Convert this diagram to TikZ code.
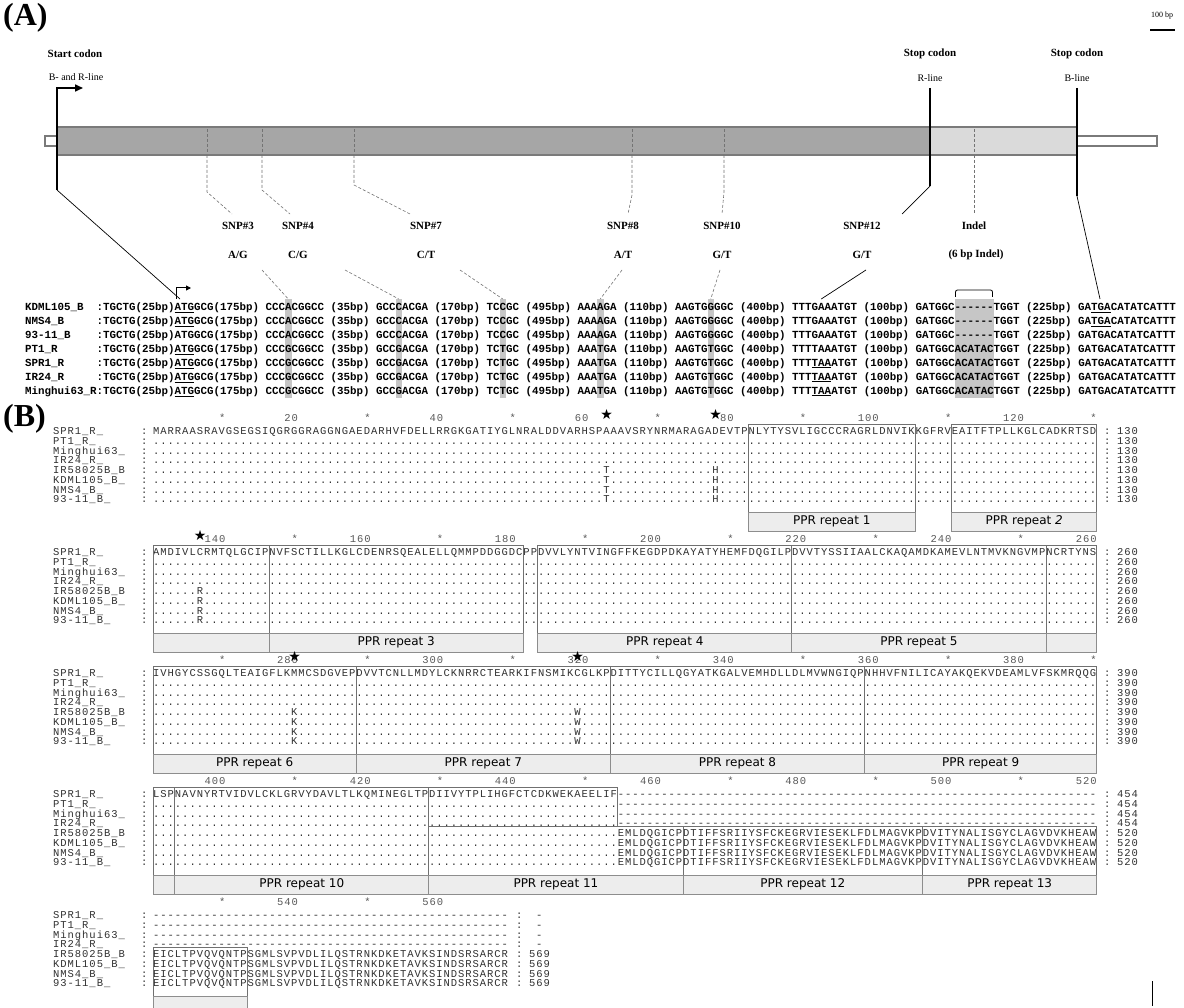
\documentclass[tikz,border=0pt]{standalone}
\usepackage{fontspec}
\setmainfont{Liberation Serif}
\setmonofont{Liberation Mono}
\newfontfamily\sansf{DejaVu Sans}
\usetikzlibrary{arrows.meta}
\definecolor{bardark}{HTML}{A6A6A6}
\definecolor{barlight}{HTML}{DADADA}
\definecolor{baredge}{HTML}{7A7A7A}
\definecolor{snpgray}{HTML}{C6C6C6}
\definecolor{lblfill}{HTML}{EDEDED}
\definecolor{boxline}{HTML}{707070}
\definecolor{seqtext}{HTML}{303030}
\ExplSyntaxOn
\cs_new:Npn \rep #1#2 { \prg_replicate:nn {#1} {#2} }
\ExplSyntaxOff
\newcount\rowc
\newcount\boxc
% alignment row: y1, index, name, sequence, colon x, number
\newcommand\alrow[6]{%
  \global\advance\rowc by 1\relax
  \edef\rn{\the\rowc}%
  \node[alnm] (nm\rn) at (53,{#1+#2*9.75+3.5}) {#3};
  \node[alnm] (cl\rn) at (141,{#1+#2*9.75+3.5}) {:};
  \node[alsq] (sq\rn) at (153,{#1+#2*9.75+3.5}) {#4};
  \node[alnm] (ec\rn) at (#5,{#1+#2*9.75+3.5}) {:};
  \node[alnm] (en\rn) at ({#5+13},{#1+#2*9.75+3.5}) {#6};
}
\newcommand\alblock[7]{%
  \alrow{#1}{0}{SPR1\_R\_}{#2}{#5}{#6}
  \alrow{#1}{1}{PT1\_R\_}{#3}{#5}{#6}
  \alrow{#1}{2}{Minghui63\_}{#3}{#5}{#6}
  \alrow{#1}{3}{IR24\_R\_}{#3}{#5}{#6}
  \alrow{#1}{4}{IR58025B\_B}{#4}{#5}{#7}
  \alrow{#1}{5}{KDML105\_B\_}{#4}{#5}{#7}
  \alrow{#1}{6}{NMS4\_B\_}{#4}{#5}{#7}
  \alrow{#1}{7}{93-11\_B\_}{#4}{#5}{#7}
}
\newcommand\ruler[3]{%
  \foreach \k in {1,...,#3}{%
    \pgfmathtruncatemacro\rnum{#2+10*\k}%
    \pgfmathtruncatemacro\rdec{\rnum/10}%
    \ifodd\rdec\relax\def\mk{*}\else\let\mk\rnum\fi
    \node[alrl] (rl\rnum) at ({153+10*\k*7.26},{#1-9.5}) {\mk};
  }%
}
% PPR box: y1, first col, last col, top row, label
\newcommand\ppr[5]{%
  \global\advance\boxc by 1\relax
  \edef\bn{\the\boxc}%
  \draw[repbox] ({153+(#2-1)*7.26},{#1-6.5+#4*9.75}) rectangle ({153+#3*7.26},{#1+81});
  \node[lblbox, minimum width={(#3-#2+1)*7.26}] (ppr\bn) at ({153+(#2-1+#3)*7.26/2},{#1+90.5}) {#5};
}
\newcommand\bstar[3]{\node[bigstar] (#3) at ({153+(#2-0.5)*7.26},{#1-17}) {★};}
% section A rows
\newcommand\arow[3]{%
  \global\advance\rowc by 1\relax
  \edef\rn{\the\rowc}%
  \node[anm] (an\rn) at (25,{#1+3.2}) {#2};
  \node[anm] (aa\rn) at (96.5,{#1+3.2}) {#3};
}
\def\sA{:TGCTG(25bp)\underline{ATG}GCG(175bp)}
\def\sAn{:TGCTG(25bp)ATGGCG(175bp)}
\def\sBu{ CCCACGGCC (35bp) GCCCACGA (170bp) TCCGC (495bp) AAAAGA (110bp) AAGTGGGGC (400bp) TTTGAAATGT (100bp) GATGGC------TGGT (225bp) GA\underline{TGA}CATATCATTT}
\def\sBn{ CCCACGGCC (35bp) GCCCACGA (170bp) TCCGC (495bp) AAAAGA (110bp) AAGTGGGGC (400bp) TTTGAAATGT (100bp) GATGGC------TGGT (225bp) GATGACATATCATTT}
\def\sRn{ CCCGCGGCC (35bp) GCCGACGA (170bp) TCTGC (495bp) AAATGA (110bp) AAGTGTGGC (400bp) TTTTAAATGT (100bp) GATGGCACATACTGGT (225bp) GATGACATATCATTT}
\def\sRu{ CCCGCGGCC (35bp) GCCGACGA (170bp) TCTGC (495bp) AAATGA (110bp) AAGTGTGGC (400bp) TTT\underline{TAA}ATGT (100bp) GATGGCACATACTGGT (225bp) GATGACATATCATTT}
\begin{document}
\begin{tikzpicture}[x=1pt,y=-1pt,
  labb/.style={inner sep=0, font=\fontsize{11}{11}\selectfont\bfseries},
  labr/.style={inner sep=0, font=\fontsize{10}{10}\selectfont},
  panel/.style={anchor=north west, inner sep=0, font=\fontsize{32}{32}\selectfont\bfseries},
  anm/.style={anchor=base west, inner sep=0, text=black, font=\ttfamily\bfseries\fontsize{10.833}{11}\selectfont},
  alnm/.style={anchor=base west, inner sep=0, text=seqtext, font=\ttfamily\fontsize{10.5}{10}\selectfont\addfontfeature{LetterSpace=9.15}},
  alsq/.style={alnm},
  alrl/.style={anchor=base east, inner sep=0, text=black!65, font=\ttfamily\fontsize{10.5}{10}\selectfont\addfontfeature{LetterSpace=9.15}},
  repbox/.style={draw=boxline, line width=0.8pt},
  lblbox/.style={draw=boxline!80, fill=lblfill, line width=0.8pt, minimum height=19pt, inner sep=0, font=\sansf\fontsize{12}{12}\selectfont},
  bigstar/.style={inner sep=0, font=\sansf\fontsize{14}{14}\selectfont},
  dl/.style={draw=black!55, dashed, dash pattern=on 3pt off 2pt, line width=0.6pt},
  sl/.style={draw=black, line width=0.7pt},
  hl/.style={fill=snpgray}
]
\useasboundingbox (0,0) rectangle (1184,1008);
\fill[white] (0,0) rectangle (1184,1008);

%================ (A) =================
\node[panel] (lblA) at (3,3) {(A)};
\node[inner sep=0, font=\fontsize{8}{8}\selectfont] (scl) at (1162,16) {100 bp};
\coordinate (scl1) at (1150,30); \coordinate (scl2) at (1175,30);
\draw[line width=1.2pt] (scl1) -- (scl2);

% gene model
\draw[draw=baredge, line width=1.2pt, fill=white] (45,136) rectangle (57,146);
\draw[draw=baredge, line width=1.2pt, fill=white] (1077,136) rectangle (1157,146);
\fill[bardark] (57,127) rectangle (930,155);
\fill[barlight] (930,127) rectangle (1077,155);
\draw[baredge, line width=2pt] (57,127) -- (1077,127);
\draw[baredge, line width=2pt] (57,155) -- (1077,155);
\foreach \xx in {207,262,354,632,724,974}{\draw[dl] (\xx,129) -- (\xx,153);}

% start / stop codons
\node[labb] (startc) at (75,54) {Start codon};
\node[labr] (startl) at (76,77) {B- and R-line};
\node[labb] (stopr) at (930,54) {Stop codon};
\node[labr] (stoprl) at (930,78) {R-line};
\node[labb] (stopb) at (1077,54) {Stop codon};
\node[labr] (stopbl) at (1077,78) {B-line};
\coordinate (st0) at (57,190); \coordinate (st1) at (57,88); \coordinate (st2) at (83,88);
\draw[line width=1.6pt, -{Triangle[length=8pt,width=7pt]}] (st0) -- (st1) -- (st2);
\coordinate (srA) at (930,88); \coordinate (srB) at (930,186);
\draw[line width=1.6pt] (srA) -- (srB);
\coordinate (sbA) at (1077,88); \coordinate (sbB) at (1077,196);
\draw[line width=1.6pt] (sbA) -- (sbB);

% SNP labels
\node[labb] (s3) at (238,226) {SNP\#3};   \node[labb] (a3) at (238,255) {A/G};
\node[labb] (s4) at (298,226) {SNP\#4};   \node[labb] (a4) at (298,255) {C/G};
\node[labb] (s7) at (426,226) {SNP\#7};   \node[labb] (a7) at (426,255) {C/T};
\node[labb] (s8) at (623,226) {SNP\#8};   \node[labb] (a8) at (623,255) {A/T};
\node[labb] (s10) at (722,226) {SNP\#10}; \node[labb] (a10) at (722,255) {G/T};
\node[labb] (s12) at (862,226) {SNP\#12}; \node[labb] (a12) at (862,255) {G/T};
\node[labb] (sin) at (974,226) {Indel};   \node[labb] (ain) at (976,255) {(6 bp Indel)};

% bar -> labels
\draw[dl] (207,155) -- (207,192) -- (232,214);
\draw[dl] (262,155) -- (262,190) -- (290,214);
\draw[dl] (354,155) -- (354,185) -- (410,214);
\draw[dl] (632,155) -- (632,195) -- (628,214);
\draw[dl] (724,155) -- (724,192) -- (722,214);
\draw[sl] (srB) -- (902,214);
\draw[dl] (974,155) -- (974,214);

% highlighted columns (char width 6.5, col 0 at 96.5)
\fill[hl] (285.0,299) rectangle (291.5,398);
\fill[hl] (395.5,299) rectangle (402.0,398);
\fill[hl] (499.5,299) rectangle (506.0,398);
\fill[hl] (597.0,299) rectangle (603.5,398);
\fill[hl] (707.5,299) rectangle (714.0,398);
\fill[hl] (954.5,299) rectangle (993.5,398);

% sequences
\arow{307}{KDML105\_B}{\sA\sBu}
\arow{321}{NMS4\_B}{\sA\sBu}
\arow{335}{93-11\_B}{\sAn\sBn}
\arow{349}{PT1\_R}{\sA\sRn}
\arow{363}{SPR1\_R}{\sA\sRu}
\arow{377}{IR24\_R}{\sA\sRu}
\arow{391}{Minghui63\_R}{\sA\sRu}

% small start arrow above ATG
\coordinate (sa0) at (176,299); \coordinate (sa1) at (176,288); \coordinate (sa2) at (191,288);
\draw[line width=1pt, -{Triangle[length=5pt,width=5pt]}] (sa0) -- (sa1) -- (sa2);
% indel bracket
\draw[line width=0.8pt, rounded corners=2pt] (955.5,297) -- (955.5,290) -- (992.5,290) -- (992.5,297);

% connectors from labels to sequence
\coordinate (q3) at (288.25,299); \coordinate (q4) at (398.75,299); \coordinate (q7) at (502.75,299);
\coordinate (q8) at (600.25,299); \coordinate (q10) at (710.75,299); \coordinate (q12) at (821.25,299);
\draw[dl] (262,270) -- (q3);
\draw[dl] (345,270) -- (q4);
\draw[dl] (460,270) -- (q7);
\draw[dl] (622,270) -- (q8);
\draw[dl] (720,270) -- (q10);
\draw[sl] (866,270) -- (q12);
\draw[sl] (st0) -- (180,299);
\draw[sl] (sbB) -- (1100,299);

%================ (B) =================
\node[panel] (lblB) at (3,404) {(B)};

% block 1
\ruler{431}{0}{13}
\bstar{431}{63}{stA} \bstar{431}{78}{stB}
\alblock{431}{MARRAASRAVGSEGSIQGRGGRAGGNGAEDARHVFDELLRRGKGATIYGLNRALDDVARHSPAAAVSRYNRMARAGADEVTPNLYTYSVLIGCCCRAGRLDNVIKKGFRVEAITFTPLLKGLCADKRTSD}{\rep{130}{.}}{\rep{62}{.}T\rep{14}{.}H\rep{52}{.}}{1104}{130}{130}
\ppr{431}{83}{105}{0}{PPR repeat 1}
\ppr{431}{111}{130}{0}{PPR repeat {\itshape 2}}

% block 2
\ruler{552}{130}{13}
\bstar{552}{7}{stC}
\alblock{552}{AMDIVLCRMTQLGCIPNVFSCTILLKGLCDENRSQEALELLQMMPDDGGDCPPDVVLYNTVINGFFKEGDPDKAYATYHEMFDQGILPDVVTYSSIIAALCKAQAMDKAMEVLNTMVKNGVMPNCRTYNS}{\rep{130}{.}}{\rep{6}{.}R\rep{123}{.}}{1104}{260}{260}
\ppr{552}{1}{16}{0}{}
\ppr{552}{17}{51}{0}{PPR repeat 3}
\ppr{552}{54}{88}{0}{PPR repeat 4}
\ppr{552}{89}{123}{0}{PPR repeat 5}
\ppr{552}{124}{130}{0}{}

% block 3
\ruler{673}{260}{13}
\bstar{673}{20}{stD} \bstar{673}{59}{stE}
\alblock{673}{IVHGYCSSGQLTEAIGFLKMMCSDGVEPDVVTCNLLMDYLCKNRRCTEARKIFNSMIKCGLKPDITTYCILLQGYATKGALVEMHDLLDLMVWNGIQPNHHVFNILICAYAKQEKVDEAMLVFSKMRQQG}{\rep{130}{.}}{\rep{19}{.}K\rep{38}{.}W\rep{71}{.}}{1104}{390}{390}
\ppr{673}{1}{28}{0}{PPR repeat 6}
\ppr{673}{29}{63}{0}{PPR repeat 7}
\ppr{673}{64}{98}{0}{PPR repeat 8}
\ppr{673}{99}{130}{0}{PPR repeat 9}

% block 4
\ruler{794}{390}{13}
\alblock{794}{LSPNAVNYRTVIDVLCKLGRVYDAVLTLKQMINEGLTPDIIVYTPLIHGFCTCDKWEKAEELIF\rep{66}{-}}{\rep{64}{.}\rep{66}{-}}{\rep{64}{.}EMLDQGICPDTIFFSRIIYSFCKEGRVIESEKLFDLMAGVKPDVITYNALISGYCLAGVDVKHEAW}{1104}{454}{520}
\ppr{794}{1}{3}{0}{}
\ppr{794}{4}{38}{0}{PPR repeat 10}
\draw[repbox] ({153+38*7.26},787.5) rectangle ({153+64*7.26},{794+39-6.5});
\ppr{794}{39}{73}{4}{PPR repeat 11}
\ppr{794}{74}{106}{4}{PPR repeat 12}
\ppr{794}{107}{130}{4}{PPR repeat 13}

% block 5
\ruler{915}{520}{4}
\alblock{915}{\rep{49}{-}}{\rep{49}{-}}{EICLTPVQVQNTPSGMLSVPVDLILQSTRNKDKETAVKSINDSRSARCR}{516}{\hspace{7pt}-}{569}
\ppr{915}{1}{13}{4}{}

\coordinate (mk1) at (1152,981); \coordinate (mk2) at (1152,1006);
\draw[line width=1pt] (mk1) -- (mk2);
\end{tikzpicture}
\end{document}
